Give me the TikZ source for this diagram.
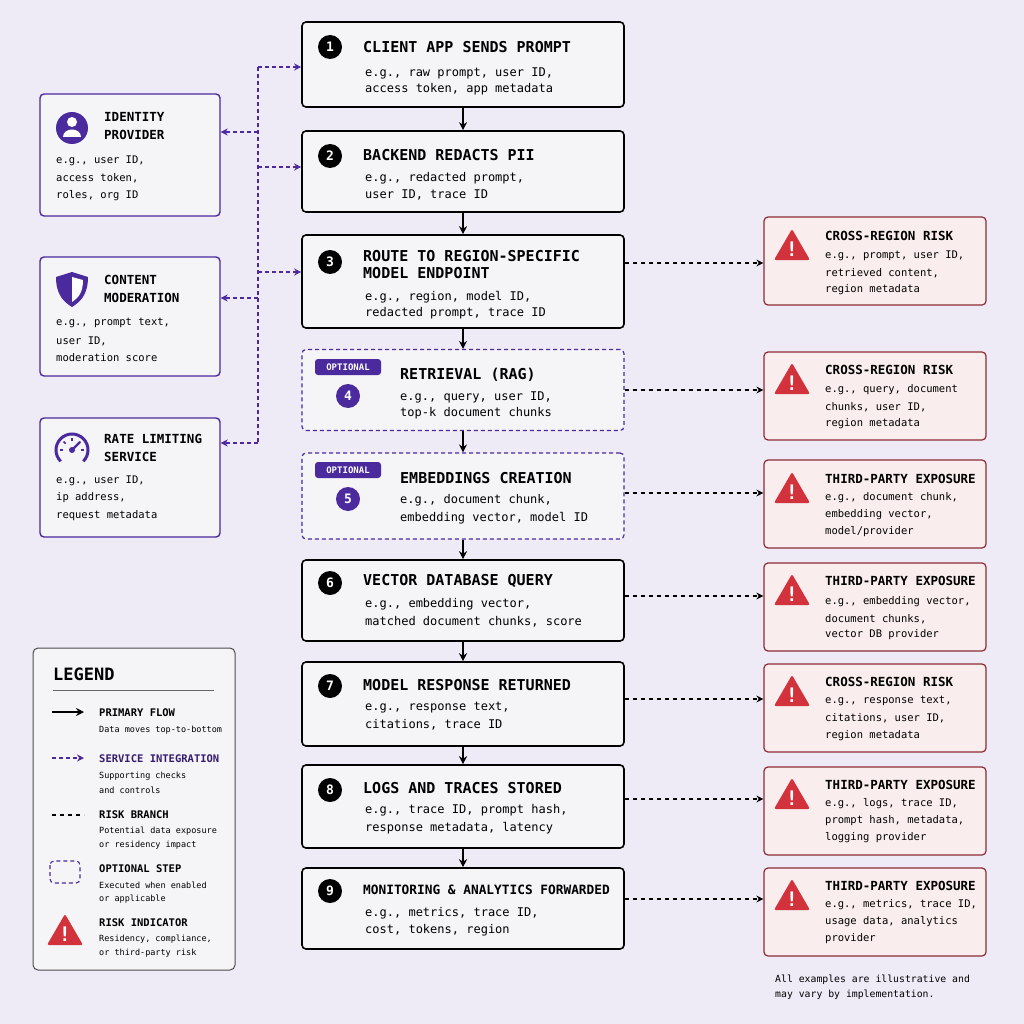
\documentclass[tikz,border=0pt]{standalone}
\usepackage{fontspec}
\setmainfont{DejaVu Sans Mono}
\usetikzlibrary{arrows.meta,positioning,calc}
\definecolor{bgc}{HTML}{EEEBF6}
\definecolor{boxc}{HTML}{F5F4F7}
\definecolor{purp}{HTML}{4A2A9C}
\definecolor{riskc}{HTML}{8C2B35}
\definecolor{riskf}{HTML}{FAEDEE}
\definecolor{redc}{HTML}{D2323C}
\tikzset{
  stepbox/.style={draw=black,line width=1.6pt,fill=boxc,rounded corners=4pt,minimum width=322pt},
  opt/.style={draw=purp,line width=1.2pt,dash pattern=on 4pt off 3pt,fill=boxc,rounded corners=4pt,minimum width=322pt},
  side/.style={draw=purp,line width=1.4pt,fill=boxc,rounded corners=4pt,minimum width=180pt},
  risk/.style={draw=riskc,line width=1.2pt,fill=riskf,rounded corners=4pt,minimum width=222pt},
  ttl/.style={anchor=west,inner sep=0pt,font=\bfseries\fontsize{15}{16}\selectfont},
  stl/.style={anchor=west,inner sep=0pt,font=\bfseries\fontsize{12.5}{14}\selectfont},
  ltl/.style={anchor=west,inner sep=0pt,font=\bfseries\fontsize{10.5}{12}\selectfont},
  txt/.style={anchor=west,inner sep=0pt,font=\fontsize{12}{14}\selectfont},
  stx/.style={anchor=west,inner sep=0pt,font=\fontsize{10.5}{12}\selectfont},
  ltx/.style={anchor=west,inner sep=0pt,font=\fontsize{8.5}{10}\selectfont},
  num/.style={circle,fill=black,text=white,minimum size=24pt,inner sep=0pt,font=\bfseries\fontsize{13}{13}\selectfont},
  pnum/.style={num,fill=purp},
  badge/.style={fill=purp,text=white,rounded corners=3pt,minimum width=66pt,minimum height=16pt,inner sep=0pt,font=\bfseries\fontsize{9}{9}\selectfont},
  flow/.style={-{Stealth[length=8pt,width=8pt]},line width=1.3pt},
  svc/.style={-{Stealth[length=7pt,width=7pt]},purp,line width=1.1pt,dash pattern=on 4pt off 3pt},
  rsk/.style={-{Stealth[length=7pt,width=7pt]},line width=1.2pt,dash pattern=on 4pt off 4pt},
}
\newcommand\warn[1]{\fill[redc,rounded corners=2pt] ($(#1)+(-18,14)$) -- ($(#1)+(0,-17)$) -- ($(#1)+(18,14)$) -- cycle;
  \node[text=white,font=\bfseries\fontsize{20}{20}\selectfont,inner sep=0pt] at ($(#1)+(0,3)$) {!};}
\begin{document}
\begin{tikzpicture}[x=1pt,y=-1pt]
\useasboundingbox (0,0) rectangle (1024,1024);
\fill[bgc] (0,0) rectangle (1024,1024);

%main steps
\node[stepbox,minimum height=85pt] (s1) at (463,64.5) {};
\node[stepbox,minimum height=81pt] (s2) at (463,171.5) {};
\node[stepbox,minimum height=93pt] (s3) at (463,281.5) {};
\node[opt,minimum height=81pt] (s4) at (463,390) {};
\node[opt,minimum height=86pt] (s5) at (463,496) {};
\node[stepbox,minimum height=81pt] (s6) at (463,600.5) {};
\node[stepbox,minimum height=84pt] (s7) at (463,704) {};
\node[stepbox,minimum height=83pt] (s8) at (463,806.5) {};
\node[stepbox,minimum height=81pt] (s9) at (463,908.5) {};

\node[num] (n1) at (330,47) {1};
\node[ttl] at (363,47) {CLIENT APP SENDS PROMPT};
\node[txt] at (365,73) {e.g., raw prompt, user ID,};
\node[txt] at (365,89) {access token, app metadata};
\node[num] (n2) at (330,156) {2};
\node[ttl] at (363,155) {BACKEND REDACTS PII};
\node[txt] at (365,178) {e.g., redacted prompt,};
\node[txt] at (365,195) {user ID, trace ID};
\node[num] (n3) at (330,262) {3};
\node[ttl] at (363,256) {ROUTE TO REGION-SPECIFIC};
\node[ttl] at (363,273) {MODEL ENDPOINT};
\node[txt] at (365,297) {e.g., region, model ID,};
\node[txt] at (365,313) {redacted prompt, trace ID};
\node[badge] (b4) at (348,367) {OPTIONAL};
\node[pnum] (n4) at (348,396) {4};
\node[ttl] at (400,375) {RETRIEVAL (RAG)};
\node[txt] at (400,397) {e.g., query, user ID,};
\node[txt] at (400,413) {top-k document chunks};
\node[badge] (b5) at (348,470) {OPTIONAL};
\node[pnum] (n5) at (348,499) {5};
\node[ttl] at (400,478) {EMBEDDINGS CREATION};
\node[txt] at (400,500) {e.g., document chunk,};
\node[txt] at (400,518) {embedding vector, model ID};
\node[num] (n6) at (330,583) {6};
\node[ttl] at (363,581) {VECTOR DATABASE QUERY};
\node[txt] at (365,604) {e.g., embedding vector,};
\node[txt] at (365,622) {matched document chunks, score};
\node[num] (n7) at (330,686) {7};
\node[ttl] at (363,685) {MODEL RESPONSE RETURNED};
\node[txt] at (365,708) {e.g., response text,};
\node[txt] at (365,725) {citations, trace ID};
\node[num] (n8) at (330,790) {8};
\node[ttl] at (363,788) {LOGS AND TRACES STORED};
\node[txt] at (365,810) {e.g., trace ID, prompt hash,};
\node[txt] at (365,828) {response metadata, latency};
\node[num] (n9) at (330,891) {9};
\node[ttl,font=\bfseries\fontsize{12.8}{15}\selectfont] at (363,890) {MONITORING \& ANALYTICS FORWARDED};
\node[txt] at (365,913) {e.g., metrics, trace ID,};
\node[txt] at (365,930) {cost, tokens, region};

\foreach \a/\b in {s1/s2,s2/s3,s3/s4,s4/s5,s5/s6,s6/s7,s7/s8,s8/s9}
  \draw[flow] (\a.south) -- (\b.north);

%side services
\node[side,minimum height=122pt] (id) at (130,155) {};
\node[side,minimum height=119pt] (cm) at (130,316.5) {};
\node[side,minimum height=119pt] (rl) at (130,477.5) {};
\fill[purp] (72,128) circle (16);
\fill[white] (72,122) circle (5);
\fill[white] (63,137) .. controls (63,127) and (81,127) .. (81,137) -- cycle;
\fill[purp] (72,272) -- (88,277) .. controls (88,295) and (80,302) .. (72,307) .. controls (64,302) and (56,295) .. (56,277) -- cycle;
\fill[white] (72,277) -- (83,280) .. controls (83,293) and (78,298) .. (72,302) -- cycle;
%gauge
\draw[purp,line width=3pt] (72,450) ++(135:16) arc (135:405:16);
\foreach \a in {-180,-135,-90,-45,0} \draw[purp,line width=1.5pt] (72,450) ++(\a:9) -- ++(\a:3);
\draw[purp,line width=2.2pt] (72,450) -- (80,442);
\fill[purp] (72,450) circle (3);
\node[stl] at (104,439) {RATE LIMITING};
\node[stl] at (104,117) {IDENTITY};
\node[stl] at (104,135) {PROVIDER};
\node[stx] at (56,161) {e.g., user ID,};
\node[stx] at (56,178) {access token,};
\node[stx] at (56,196) {roles, org ID};
\node[stl] at (104,280) {CONTENT};
\node[stl] at (104,298) {MODERATION};
\node[stx] at (56,323) {e.g., prompt text,};
\node[stx] at (56,341) {user ID,};
\node[stx] at (56,358) {moderation score};
\node[stl] at (104,457) {SERVICE};
\node[stx] at (56,481) {e.g., user ID,};
\node[stx] at (56,498) {ip address,};
\node[stx] at (56,516) {request metadata};

\coordinate (t1) at (258,67);
\coordinate (t2) at (258,443);
\draw[purp,line width=1.1pt,dash pattern=on 4pt off 3pt] (t1) -- (t2);
\draw[svc] (t1) -- (t1 -| s1.west);
\draw[svc] (258,167) -- (s2.west |- 0,167);
\draw[svc] (258,272) -- (s3.west |- 0,272);
\draw[svc] (258,132) -- (id.east |- 0,132);
\draw[svc] (258,298) -- (cm.east |- 0,298);
\draw[svc] (t2) -- (t2 -| rl.east);

%risks
\node[risk,minimum height=88pt] (r1) at (875,261) {};
\node[risk,minimum height=88pt] (r2) at (875,396) {};
\node[risk,minimum height=88pt] (r3) at (875,504) {};
\node[risk,minimum height=88pt] (r4) at (875,607) {};
\node[risk,minimum height=88pt] (r5) at (875,708) {};
\node[risk,minimum height=88pt] (r6) at (875,811) {};
\node[risk,minimum height=88pt] (r7) at (875,912) {};
\foreach \y in {246,380,489,591,692,795,896} {\warn{792,\y}}
\node[stl] at (825,236) {CROSS-REGION RISK};
\node[stx] at (825,256) {e.g., prompt, user ID,};
\node[stx] at (825,273) {retrieved content,};
\node[stx] at (825,290) {region metadata};
\node[stl] at (825,370) {CROSS-REGION RISK};
\node[stx] at (825,390) {e.g., query, document};
\node[stx] at (825,407) {chunks, user ID,};
\node[stx] at (825,424) {region metadata};
\node[stl] at (825,479) {THIRD-PARTY EXPOSURE};
\node[stx] at (825,498) {e.g., document chunk,};
\node[stx] at (825,515) {embedding vector,};
\node[stx] at (825,532) {model/provider};
\node[stl] at (825,581) {THIRD-PARTY EXPOSURE};
\node[stx] at (825,602) {e.g., embedding vector,};
\node[stx] at (825,619) {document chunks,};
\node[stx] at (825,635) {vector DB provider};
\node[stl] at (825,682) {CROSS-REGION RISK};
\node[stx] at (825,701) {e.g., response text,};
\node[stx] at (825,718) {citations, user ID,};
\node[stx] at (825,736) {region metadata};
\node[stl] at (825,785) {THIRD-PARTY EXPOSURE};
\node[stx] at (825,804) {e.g., logs, trace ID,};
\node[stx] at (825,821) {prompt hash, metadata,};
\node[stx] at (825,838) {logging provider};
\node[stl] at (825,886) {THIRD-PARTY EXPOSURE};
\node[stx] at (825,905) {e.g., metrics, trace ID,};
\node[stx] at (825,922) {usage data, analytics};
\node[stx] at (825,939) {provider};

\draw[rsk] (s3.east |- 0,263) -- (r1.west |- 0,263);
\draw[rsk] (s4.east) -- (s4.east -| r2.west);
\draw[rsk] (s5.east |- 0,493) -- (r3.west |- 0,493);
\draw[rsk] (s6.east |- 0,596) -- (r4.west |- 0,596);
\draw[rsk] (s7.east |- 0,699) -- (r5.west |- 0,699);
\draw[rsk] (s8.east |- 0,799) -- (r6.west |- 0,799);
\draw[rsk] (s9.east |- 0,899) -- (r7.west |- 0,899);

%legend
\node[draw=black!70,line width=1pt,fill=boxc,rounded corners=5pt,minimum width=202pt,minimum height=322pt] (lg) at (134,809) {};
\node[anchor=west,inner sep=0pt,font=\bfseries\fontsize{17}{17}\selectfont] at (53,674) {LEGEND};
\draw[black!60,line width=0.8pt] (53,690) -- (214,690);
\draw[flow] (52,712) -- (84,712);
\node[ltl] at (99,713) {PRIMARY FLOW};
\node[ltx] at (99,730) {Data moves top-to-bottom};
\draw[svc] (52,758) -- (84,758);
\node[ltl,text=purp!70!black] at (99,759) {SERVICE INTEGRATION};
\node[ltx] at (99,776) {Supporting checks};
\node[ltx] at (99,790) {and controls};
\draw[line width=1.2pt,dash pattern=on 4pt off 4pt] (52,815) -- (84,815);
\node[ltl] at (99,815) {RISK BRANCH};
\node[ltx] at (99,831) {Potential data exposure};
\node[ltx] at (99,845) {or residency impact};
\draw[purp,line width=1.1pt,dash pattern=on 4pt off 3pt,rounded corners=4pt] (50,861) rectangle (80,883);
\node[ltl] at (99,869) {OPTIONAL STEP};
\node[ltx] at (99,885) {Executed when enabled};
\node[ltx] at (99,899) {or applicable};
\warn{65,931}
\node[ltl] at (99,923) {RISK INDICATOR};
\node[ltx] at (99,939) {Residency, compliance,};
\node[ltx] at (99,953) {or third-party risk};

\node[anchor=west,inner sep=0pt,font=\fontsize{9.8}{11}\selectfont] at (775,980) {All examples are illustrative and};
\node[anchor=west,inner sep=0pt,font=\fontsize{9.8}{11}\selectfont] at (775,995) {may vary by implementation.};
\end{tikzpicture}
\end{document}
